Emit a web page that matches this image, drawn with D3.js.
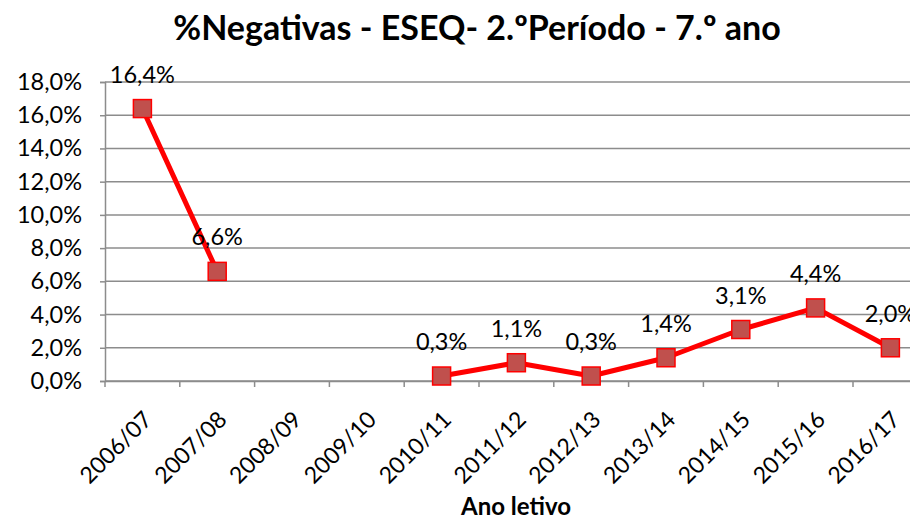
<!DOCTYPE html>
<html><head><meta charset="utf-8">
<script src="https://cdn.jsdelivr.net/npm/d3@7"></script>
<style>body{margin:0;background:#fff;} svg{display:block;font-family:Lato,"Open Sans",sans-serif;}</style>
</head><body>
<svg id="c" width="910" height="520"></svg>
<script>
const categories = ["2006/07","2007/08","2008/09","2009/10","2010/11","2011/12","2012/13","2013/14","2014/15","2015/16","2016/17"];
const values = [16.4, 6.6, null, null, 0.3, 1.1, 0.3, 1.4, 3.1, 4.4, 2.0];
const yTicks = [0,2,4,6,8,10,12,14,16,18];
const title = "%Negativas - ESEQ- 2.ºPeríodo - 7.º ano";
const xTitle = "Ano letivo";

(function(){
const svg = d3.select("#c");
const left = 105, topY = 82, bottom = 381, right = 105 + 11*74.8;
const x = d3.scaleBand().domain(categories).range([left, right]);
const y = d3.scaleLinear().domain([0,18]).range([bottom, topY]);
const fmt = v => v.toFixed(1).replace(".", ",") + "%";
const cx = c => x(c) + x.bandwidth()/2;

// gridlines
svg.append("g").selectAll("line").data(yTicks).join("line")
  .attr("x1", left).attr("x2", 910).attr("y1", d=>y(d)).attr("y2", d=>y(d))
  .attr("stroke", "#8c8c8c").attr("stroke-width", 1.5);

// y axis
const ya = svg.append("g").attr("transform", `translate(${left},0)`)
  .call(d3.axisLeft(y).tickValues(yTicks).tickSize(5).tickPadding(18).tickFormat(d=>fmt(d)));
ya.select(".domain").attr("stroke", "#8c8c8c").attr("stroke-width", 1.5);
ya.selectAll(".tick line").attr("stroke", "#8c8c8c").attr("stroke-width", 1.5);
ya.selectAll("text").attr("font-size", 23.5).attr("fill", "#000").attr("font-family","Lato");

// x axis
const xa = svg.append("g").attr("transform", `translate(0,${bottom})`)
  .call(d3.axisBottom(x).tickSize(0).tickFormat(d=>d));
xa.select(".domain").attr("stroke", "#8c8c8c").attr("stroke-width", 1.5);
xa.selectAll(".tick line").remove();
xa.append("g").selectAll("line").data(d3.range(categories.length+1)).join("line")
  .attr("x1", i=>left + i*x.step()).attr("x2", i=>left + i*x.step())
  .attr("y1", 0).attr("y2", 6).attr("stroke", "#8c8c8c").attr("stroke-width", 1.5);
xa.selectAll(".tick text")
  .attr("font-size", 23).attr("fill", "#000").attr("font-family","Lato")
  .attr("text-anchor", "end").attr("dy", null).attr("y", 0)
  .attr("transform", `translate(11,40) rotate(-45)`);

// line segments
const pts = categories.map((c,i)=>({c, v: values[i]}));
const line = d3.line().defined(d=>d.v!=null).x(d=>cx(d.c)).y(d=>y(d.v));
svg.append("path").datum(pts).attr("d", line).attr("fill","none")
  .attr("stroke", "#ff0000").attr("stroke-width", 5).attr("stroke-linejoin","round");

const valid = pts.filter(d=>d.v!=null);
svg.append("g").selectAll("rect").data(valid).join("rect")
  .attr("x", d=>cx(d.c)-9).attr("y", d=>y(d.v)-9)
  .attr("width", 18).attr("height", 18)
  .attr("fill", "#c0504d").attr("stroke", "#ff0000").attr("stroke-width", 1.5);

svg.append("g").selectAll("text").data(valid).join("text")
  .attr("x", d=>cx(d.c)).attr("y", d=>y(d.v)-26)
  .attr("text-anchor","middle").attr("font-size", 23.5).attr("fill","#000")
  .text(d=>fmt(d.v));

svg.append("text").attr("x", 477).attr("y", 40).attr("text-anchor","middle")
  .attr("font-size", 34).attr("font-weight","bold").attr("fill","#000").text(title);
svg.append("text").attr("x", 516).attr("y", 515).attr("text-anchor","middle")
  .attr("font-size", 24).attr("font-weight","bold").attr("fill","#000").text(xTitle);
})();
</script>
</body></html>
